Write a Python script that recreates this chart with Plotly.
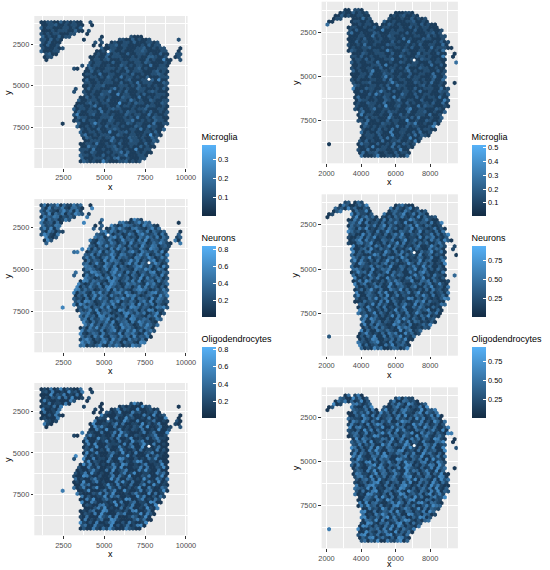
import plotly.graph_objects as go

W, H = 550, 570
LOW, HIGH = "#132B43", "#56B1F7"
TICK_FONT = dict(family="Liberation Sans", size=7.4, color="#4D4D4D")

# (row, first column, last column) of the spots on the capture grid
LEFT_SPANS = [
    (0, 0, 12), (0, 15, 15), (1, 0, 12), (1, 15, 15), (2, 0, 12), (3, 0, 12), (3, 14, 14), (4, 0, 10), (4, 14, 14),
    (5, 0, 8), (5, 18, 18), (5, 27, 30), (6, 0, 6), (6, 13, 13), (6, 18, 18), (6, 24, 33), (6, 42, 42), (7, 0, 5), (7, 16, 16), (7, 18, 18), (7, 21, 35),
    (8, 0, 5), (8, 16, 16), (8, 18, 18), (8, 20, 36), (9, 0, 5), (9, 6, 6), (9, 18, 37), (9, 42, 42), (10, 0, 5), (10, 17, 38), (10, 42, 42),
    (11, 1, 4), (11, 16, 38), (11, 41, 42), (12, 1, 3), (12, 15, 38), (12, 41, 42), (13, 1, 1), (13, 15, 39), (13, 42, 42), (14, 15, 39),
    (15, 12, 12), (15, 14, 38), (16, 10, 11), (16, 14, 38), (17, 13, 38), (18, 13, 38), (19, 13, 38), (20, 13, 38), (21, 13, 38),
    (22, 13, 38), (23, 10, 10), (23, 13, 38), (24, 10, 10), (24, 13, 38), (25, 13, 38), (26, 12, 38), (27, 11, 38), (28, 11, 38),
    (29, 10, 38), (30, 10, 38), (31, 10, 38), (32, 10, 38), (33, 10, 38), (34, 10, 38), (35, 6, 6), (35, 11, 38), (36, 11, 37),
    (37, 12, 37), (38, 12, 36), (39, 12, 36), (40, 13, 35), (41, 13, 35), (42, 12, 34), (43, 12, 34), (44, 12, 33), (45, 12, 33),
    (46, 12, 32), (47, 12, 31), (48, 12, 30),
]
RIGHT_SPANS = [
    (0, 6, 7), (0, 9, 11), (1, 4, 7), (1, 8, 12), (1, 21, 26), (2, 3, 7), (2, 8, 13), (2, 20, 28), (3, 2, 4), (3, 8, 13), (3, 19, 30),
    (4, 1, 2), (4, 8, 14), (4, 18, 31), (5, 0, 0), (5, 8, 15), (5, 17, 33), (6, 7, 16), (6, 17, 34), (7, 7, 35), (8, 7, 35), (9, 7, 36),
    (10, 7, 36), (11, 7, 37), (12, 7, 37), (13, 7, 38), (14, 7, 36), (15, 8, 36), (15, 39, 39), (16, 8, 36), (16, 39, 39), (17, 8, 36), (18, 8, 36), (18, 40, 40),
    (19, 8, 36), (20, 8, 36), (21, 8, 36), (22, 8, 36), (23, 8, 36), (24, 8, 36), (25, 8, 36), (25, 39, 39), (26, 9, 36), (27, 8, 8), (27, 9, 37),
    (28, 9, 37), (29, 9, 37), (30, 9, 37), (31, 9, 37), (32, 9, 37), (33, 9, 37), (34, 9, 36), (35, 10, 36), (36, 10, 35), (37, 10, 35),
    (38, 10, 35), (39, 11, 34), (40, 11, 33), (41, 11, 33), (42, 11, 32), (43, 11, 31), (44, 11, 29), (45, 10, 28), (46, 1, 1), (46, 10, 27),
    (47, 10, 26), (48, 10, 25), (49, 10, 25), (50, 11, 25),
]
LEFT_GRID = dict(x0=1156, dx=200, y0=1175, dy=174.4)
RIGHT_GRID = dict(x0=1960, dx=188.7, y0=1238, dy=165)
LEFT_HOLES_X, LEFT_HOLES_Y = [7736, 5236], [4603, 2940]
RIGHT_HOLES_X, RIGHT_HOLES_Y = [7074], [4068]

# one digit per spot, row by row; 0 is the bottom of the colour bar
MICROGLIA_LEFT = (
    "112211312121121122311212211131221112212131112122211311221212"
    "211122131211312212111221312112221131211222131112212112213111"
    "221221311211122312211112131222111212311221121112231121221311"
    "122112132112111223211112212311121141221131122212113112212211"
    "211312221112121133211212112212311121122211312115112212211131"
    "122112213211112123122112111321212211411221211321112221213112"
    "312111222113121221121131222111231211221141122112213112112232"
    "111221213211412212113111222131121122121123111221315112211212"
    "221131121412221113211212231111222121311212112213122111241212"
    "113221112131221121122411213111221232111212113221151221121311"
    "122211131212212111322114112122113112221213111221421211321122"
    "111231212211161121322112113212211241112113122121113221121312"
    "212114112322111212231112211311222141211121322112131121225111"
    "231122121113212211412112132211112223111212141121322111213122"
    "121132111224112121322113111252112212113212211141122311212121"
    "312212111321142211212113112232111221412121133112212115112231"
    "211122131241121222113211221121612113211212241111322121132112"
    "221114212113221211321122141121213112221131211422111223121121"
    "131211222141121123212115112221132111212241311212113221211311"
    "212241112213111222121341121112213212115211122312121114221132"
    "112212311421221113121225111221231121411222113112121322114211"
    "221131125112221213112141122311211321121122141121321221113212"
)
NEURONS_LEFT = (
    "261437152263514172436215531742632147351624271536142753216436"
    "513242671534126351742623415172563124736415232651473126542317"
    "452136271543126374215632147253164132572641352317426153241375"
    "216432751341264157323516247213645135726142315374261532417362"
    "154263127345162714325361421753264135172346125374216431527342"
    "631524173265134276152431627351422631754132561243715362142573"
    "164325271436152237416523147361254173625214637153421652374126"
    "315243172654123736142571326451372164253147261532374126541327"
    "426153124673251417325642136157243216437512641532764231573416"
    "251342671253416237514263724153163254172643125371642351427163"
    "254131762543216741352627134516247312536142753126453217462135"
    "714263251674231541372625314176253412437162532146753124263714"
    "521637241356274125314672351426137254163241756312452173642315"
    "162734125473261543172642351764123526471325314627154236175243"
    "126437215346172536142173265143627152341765243126573142362714"
    "352176243514276132546217354123167425361247135263417625413271"
    "643215372461523647125341762354126473152436271345162753421637"
    "241536217453126374251416372534621745312364172543261357142637"
    "251463721354162432715463127352416372154263517243612574132641"
    "735216342517463125726341534217656132472153641327541263714253"
    "163247512364257143216735412367142536174253126473251641372513"
    "462715342361475213264173254613724152376142531742635124376215"
)
OLIGO_LEFT = (
    "121612713211512316112172316211171326121511213261517112316211"
    "211163121512216112731122151621131211172316112152112613211711"
    "231215112611321271116231122511131621721113212511162171231121"
    "116132211511723112161211713212611152121731161122511213162117"
    "112213615112217131261121117362115121213261711251123116217112"
    "612132151121711362211511261732111261251117213621121151726113"
    "211236112511172213161127112151362211711312612151217236111251"
    "126171113222161511372161121131271152116213611712125113261121"
    "611272113151221613117126111352171216112361121751312112611227"
    "131116125211371161221511762113121526111271321162115121376112"
    "215111726131211621751121361122713116215112361711122615113271"
    "121136211517123611162721151131261721211511361271122116351211"
    "762113112615217111326112715121136211172611531217211631512171"
    "136121116272151131621712116351111272161215113611721215126113"
    "711262151131271162115361127111251361172112613511271621113261"
    "527111213621171512613112271635112117261131521162711352112176"
    "113612152711631121271611351221761113211562117131261125117111"
    "362712115136112172161213511761122131671125113216172111536112"
    "271631215111732616111253127116121351176211113625117213161125"
    "711316211273511622117131251267113116215273111632112571612131"
    "126117352111627131121561273116115213762111351217612113162571"
    "121136211752161131211267113512116273151111327612115213161721"
)
MICROGLIA_RIGHT = (
    "112211211312121112211131211221112123112112211141221112113121"
    "211122112131121112231121411212211113212111221312111221121131"
    "122111211312122111213111221151121221113112121122411211132111"
    "222113121112231211122114121132112111221131212211121311212112"
    "211412111322111211312211221113121151122111213122112141121113"
    "221112121311221141121122311121112212131121141222111321121122"
    "115211132111221212141113211222113112121141221131112213112112"
    "212114211132212111511221312111224111212113221121131211221411"
    "121132112211131221411211122315112111322121141131212112211311"
    "221214111322112113121125112213111241211221131211122141113221"
    "121131122114112112213111251212113122111241132121112211314112"
    "211221211311421122311111252112113212141121132111221213114221"
    "111231211215111322112141121211311222114121131121252113112212"
    "141121132211113152122111421131122111213141121211321512211131"
    "212214111322112113212411221131112115212113221141112213121122"
    "131141211122121611231121141322111212131124112211211351122111"
    "321241121121322111411223112113151221121141131211222141121131"
    "221115211221314111211322141121131221161121132112241111322121"
    "113251121141132121221114113122111252112131214112211131221141"
    "211321151122113141121222131115112121413211122113141212115112"
    "213121141122311215111422113112141132121121511221413112121141"
    "132211215111412231121131221411125112213114121221113151221141"
)
NEURONS_RIGHT = (
    "231421531124261352114231624113251421361213514226113421531241"
    "312614221351142361251431126135241213142521316142231152614213"
    "151423112642135211342615123141325216114233151261423114251361"
    "421213516214311243152612134152411326143212513164231142151263"
    "114325126132141523116241321413526113241225141362113514261231"
    "142531221614351213124615231143251136124213152416312114523612"
    "141326151231424113526121341531261424121351126314225113416214"
    "231512136142115243126131451221631415213114236125141321126415"
    "211351423161241321153142612311452163121431251142361521314126"
    "214135122613411253164212313514211263152413121641132251431261"
    "143125216241131453121612435112413261251314211263415121361423"
    "115214631121541312621431152431126241315221461131425116231214"
    "513261142131251641213142531226114351421126135124131261542113"
    "241351262141131254116213421351142612315124136214115326141213"
    "141523126113421526114132513612141231526114321416125132114263"
    "151241312142613514211265131421213651114232151614213112536142"
    "211431261523114135216142311254131621415121326114253114216315"
    "213141261351124236114152312614213142151263114251361241312615"
    "124131426121351642113115263142141236115241321461251431213126"
    "141532116423151124261313514212163541121326141153242116135124"
    "136212141535116241231314261151423612141312651132414261153213"
    "461215132416141231152613421412163511243126114351262141315124"
)
OLIGO_RIGHT = (
    "152614311725132614221536141271326115423171256312414263175212"
    "413621152731146215132617143225161371241563212714361152426131"
    "724151362214716325114273161522413617125341261715322164137124"
    "516231417261253116427315214261137541226131741526213161475123"
    "261411736251241371562141327116245131621742511363214172615213"
    "417262115341362171245126131472615124371162531421761253141276"
    "211534163217146213521716431225417136126251431762114253617124"
    "136215271431621154713261425117361422751311642612375141261731"
    "542116273141526117325141627311542671231516234117261531426171"
    "325414261173521416372115426731124615327114261531742126153411"
    "763214251617231452167131426215173412561317424162135716214351"
    "276131426517314211632751412617532141261735124316271451362117"
    "254136217141652213715412631742151361427112563171425136214671"
    "231541276131452617213541136271542161735212413671251341627115"
    "241731526114673215141267312514173621154327161214531762141352"
    "617214315126712541362174215316271435121763214151276134251471"
    "362115426173151426317251146237115421631751241367121541326171"
    "452113627415126731542116273415121673142511362754116231741521"
    "364127151432671151243617215413261745121637414251176231541267"
    "132415716235114276131542716123514762131452176214351267141523"
    "176314215261741321567121435162714153261174215362171425136714"
    "251267134151426713521417621351427116325714216135417261524137"
)

LEFT_X_TICKS = [2500, 5000, 7500, 10000]
RIGHT_X_TICKS = [2000, 4000, 6000, 8000]
Y_TICKS = [2500, 5000, 7500]

# digit_top: the digit that stands for the top of the colour bar
PANELS = [
    dict(name="Microglia", digits=MICROGLIA_LEFT, digit_top=7.5, cmax=0.376, ticks=[0.1, 0.2, 0.3], labels=["0.1", "0.2", "0.3"],
         spans=LEFT_SPANS, grid=LEFT_GRID, holes=(LEFT_HOLES_X, LEFT_HOLES_Y), xticks=LEFT_X_TICKS,
         box=(32, 188.7, 16, 168), xr=(720, 10100), yr=(9950, 796), bar=(203, 146, 216), x_title=187, y_title=5),
    dict(name="Neurons", digits=NEURONS_LEFT, digit_top=10.5, cmax=0.84, ticks=[0.2, 0.4, 0.6, 0.8], labels=["0.2", "0.4", "0.6", "0.8"],
         spans=LEFT_SPANS, grid=LEFT_GRID, holes=(LEFT_HOLES_X, LEFT_HOLES_Y), xticks=LEFT_X_TICKS,
         box=(32, 188.7, 199, 352.3), xr=(720, 10100), yr=(9950, 796), bar=(203, 246.7, 317.3), x_title=370.5, y_title=5),
    dict(name="Oligodendrocytes", digits=OLIGO_LEFT, digit_top=10, cmax=0.83, ticks=[0.2, 0.4, 0.6, 0.8], labels=["0.2", "0.4", "0.6", "0.8"],
         spans=LEFT_SPANS, grid=LEFT_GRID, holes=(LEFT_HOLES_X, LEFT_HOLES_Y), xticks=LEFT_X_TICKS,
         box=(32, 188.7, 383, 535.3), xr=(720, 10100), yr=(9950, 796), bar=(203, 347.7, 418.3), x_title=553.5, y_title=5),
    dict(name="Microglia", digits=MICROGLIA_RIGHT, digit_top=8, cmax=0.517, ticks=[0.1, 0.2, 0.3, 0.4, 0.5], labels=["0.1", "0.2", "0.3", "0.4", "0.5"],
         spans=RIGHT_SPANS, grid=RIGHT_GRID, holes=(RIGHT_HOLES_X, RIGHT_HOLES_Y), xticks=RIGHT_X_TICKS,
         box=(325.7, 465, 1.7, 163.3), xr=(1717, 9600), yr=(9911, 768), bar=(479, 146, 216), x_title=182, y_title=299),
    dict(name="Neurons", digits=NEURONS_RIGHT, digit_top=9, cmax=0.945, ticks=[0.25, 0.5, 0.75], labels=["0.25", "0.50", "0.75"],
         spans=RIGHT_SPANS, grid=RIGHT_GRID, holes=(RIGHT_HOLES_X, RIGHT_HOLES_Y), xticks=RIGHT_X_TICKS,
         box=(325.7, 465, 194.3, 355.7), xr=(1717, 9600), yr=(9911, 768), bar=(479, 246.7, 317.3), x_title=374.5, y_title=299),
    dict(name="Oligodendrocytes", digits=OLIGO_RIGHT, digit_top=10, cmax=0.945, ticks=[0.25, 0.5, 0.75], labels=["0.25", "0.50", "0.75"],
         spans=RIGHT_SPANS, grid=RIGHT_GRID, holes=(RIGHT_HOLES_X, RIGHT_HOLES_Y), xticks=RIGHT_X_TICKS,
         box=(325.7, 465, 387.3, 548.3), xr=(1717, 9600), yr=(9911, 768), bar=(479, 347.7, 418.3), x_title=564, y_title=299),
]
TITLE_ROOM = 15.5


def grid_spots(spans, x0, dx, y0, dy):
    xs, ys = [], []
    for row, first, last in spans:
        for col in range(first, last + 1):
            xs.append(x0 + dx * (col + 0.5 * (row % 2)))
            ys.append(y0 + dy * row)
    return xs, ys


fig = go.Figure()
layout = {}

for i, p in enumerate(PANELS):
    n = "" if i == 0 else str(i + 1)
    xs, ys = grid_spots(p["spans"], **p["grid"])
    values = [int(d) / p["digit_top"] * p["cmax"] for d in p["digits"][:len(xs)]]
    if len(values) < len(xs):
        print("short", p["name"], len(values), len(xs))
    left, right, top, bottom = p["box"]
    bar_x, bar_top, bar_bottom = p["bar"]

    fig.add_trace(go.Scatter(
        x=xs[:len(values)], y=ys[:len(values)], mode="markers", xaxis="x" + n, yaxis="y" + n,
        showlegend=False, hoverinfo="skip",
        marker=dict(
            symbol="hexagon", size=4.5, line=dict(width=0), color=values, cmin=0, cmax=p["cmax"],
            colorscale=[[0, LOW], [1, HIGH]], showscale=True,
            colorbar=dict(
                x=bar_x / W, xanchor="left", xpad=0, y=1 - (bar_top - TITLE_ROOM) / H, yanchor="top", ypad=0,
                len=bar_bottom - bar_top + TITLE_ROOM, lenmode="pixels", thickness=14, thicknessmode="pixels",
                outlinewidth=0, tickvals=p["ticks"], ticktext=p["labels"],
                ticks="inside", ticklen=3, tickcolor="white", tickwidth=0.5,
                tickfont=dict(family="Liberation Sans", size=7.4, color="black"),
                title=dict(text=p["name"], side="top", font=dict(family="Liberation Sans", size=9, color="black")),
            ),
        ),
    ))
    fig.add_trace(go.Scatter(
        x=p["holes"][0], y=p["holes"][1], mode="markers", xaxis="x" + n, yaxis="y" + n,
        showlegend=False, hoverinfo="skip", marker=dict(color="white", size=3, line=dict(width=0)),
    ))

    x_step = p["xticks"][1] - p["xticks"][0]
    layout["xaxis" + n] = dict(
        domain=[left / W, right / W], anchor="y" + n, range=list(p["xr"]), tickvals=p["xticks"], tickformat="d",
        ticks="outside", ticklen=2.5, tickwidth=0.7, tickcolor="#333333", tickfont=TICK_FONT,
        showgrid=True, gridcolor="white", gridwidth=1, zeroline=False, showline=False,
        minor=dict(tick0=p["xticks"][0] - x_step / 2, dtick=x_step / 2, showgrid=True, gridcolor="white", gridwidth=0.4, ticks=""),
    )
    layout["yaxis" + n] = dict(
        domain=[1 - bottom / H, 1 - top / H], anchor="x" + n, range=list(p["yr"]), tickvals=Y_TICKS, tickformat="d",
        ticks="outside", ticklen=2.5, tickwidth=0.7, tickcolor="#333333", tickfont=TICK_FONT,
        showgrid=True, gridcolor="white", gridwidth=1, zeroline=False, showline=False,
        minor=dict(tick0=1250, dtick=1250, showgrid=True, gridcolor="white", gridwidth=0.4, ticks=""),
    )
    fig.add_annotation(text="x", xref="paper", yref="paper", x=(left + right) / 2 / W, y=1 - p["x_title"] / H,
                       xanchor="center", yanchor="middle", showarrow=False, borderpad=0,
                       font=dict(family="Liberation Sans", size=9, color="black"))
    fig.add_annotation(text="y", xref="paper", yref="paper", x=p["y_title"] / W, y=1 - (top + bottom) / 2 / H,
                       xanchor="center", yanchor="middle", textangle=-90, showarrow=False, borderpad=0,
                       font=dict(family="Liberation Sans", size=9, color="black"))

fig.update_layout(
    width=W, height=H, margin=dict(l=0, r=0, t=0, b=0), autosize=False,
    paper_bgcolor="white", plot_bgcolor="#EBEBEB", font=dict(family="Liberation Sans"), **layout,
)
fig.write_html("out.html", config=dict(displayModeBar=False), post_script="document.body.style.margin='0';")
